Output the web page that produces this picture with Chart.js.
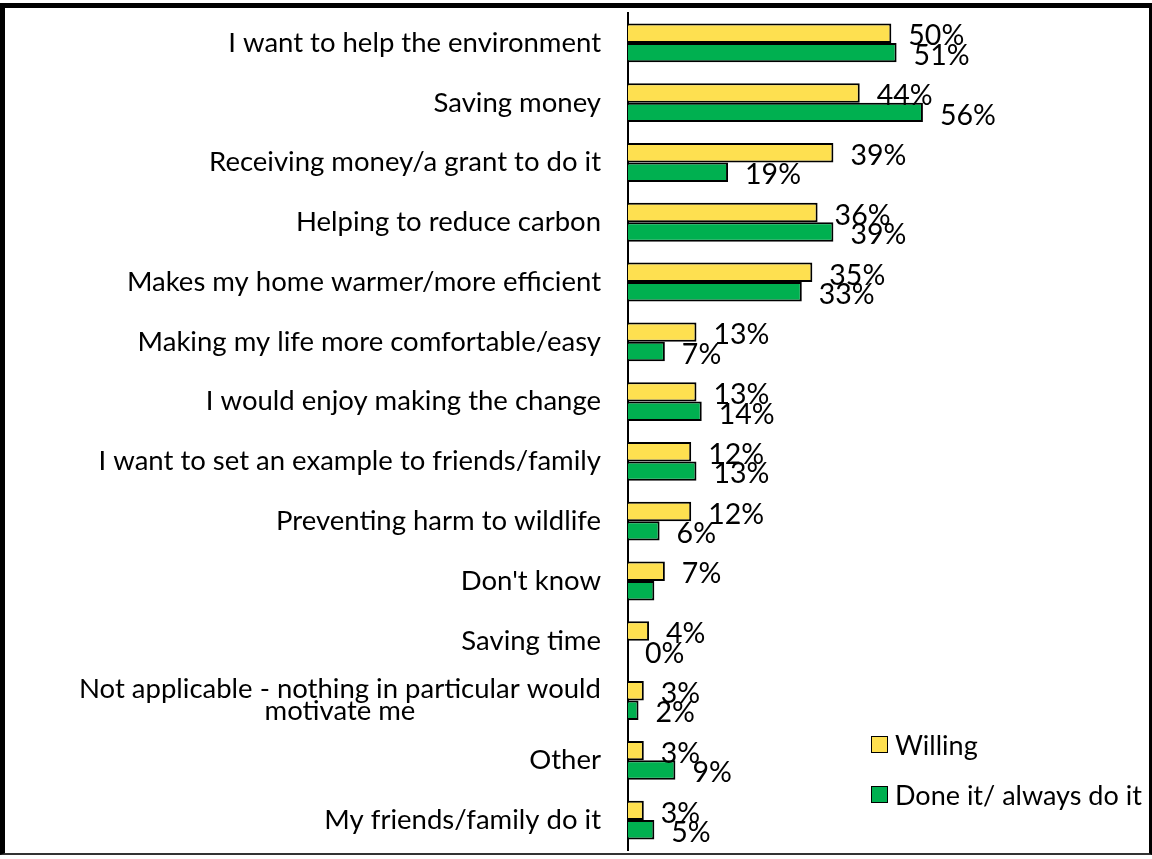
<!DOCTYPE html>
<html>
<head>
<meta charset="utf-8">
<script src="https://cdn.jsdelivr.net/npm/chart.js@4"></script>
<style>
  body { margin: 0; background: #fff; }
  #wrap { position: relative; width: 1152px; height: 859px; }
  #chart { position: absolute; left: 0; top: 0; }
  #frame {
    position: absolute; left: 0; top: 3px; width: 1144px; height: 845px;
    border-left: 5px solid #000; border-top: 5px solid #000;
    border-right: 3px solid #000; border-bottom: 2px solid #333;
    pointer-events: none;
  }
  .legend { position: absolute; left: 871px; font: 27px Lato, sans-serif; color: #000; display: flex; align-items: center; }
  .legend i { display: inline-block; width: 15px; height: 15px; border: 1.5px solid #000; margin-right: 7px; }
</style>
</head>
<body>
<div id="wrap">
  <canvas id="chart" width="1152" height="859"></canvas>
  <div id="frame"></div>
  <div class="legend" style="top:728px"><i style="background:#FEE050"></i>Willing</div>
  <div class="legend" style="top:778px"><i style="background:#00B050"></i>Done it/ always do it</div>
</div>
<script>
const categories = [
  'I want to help the environment',
  'Saving money',
  'Receiving money/a grant to do it',
  'Helping to reduce carbon',
  'Makes my home warmer/more efficient',
  'Making my life more comfortable/easy',
  'I would enjoy making the change',
  'I want to set an example to friends/family',
  'Preventing harm to wildlife',
  "Don't know",
  'Saving time',
  ['Not applicable - nothing in particular would', 'motivate me'],
  'Other',
  'My friends/family do it'
];
const willing = [50, 44, 39, 36, 35, 13, 13, 12, 12, 7, 4, 3, 3, 3];
const doneIt = [51, 56, 19, 39, 33, 7, 14, 13, 6, 5, 0, 2, 9, 5];
// the "Don't know" done bar carries no value label
const hideDoneLabel = ["Don't know"];

const labelFont = '27.5px Lato, sans-serif';
const valueFont = '28.5px Lato, sans-serif';

const categoryLabels = {
  id: 'categoryLabels',
  afterDraw (chart) {
    const ctx = chart.ctx;
    const y = chart.scales.y;
    ctx.save();
    ctx.font = labelFont;
    ctx.fillStyle = '#000';
    ctx.textBaseline = 'middle';
    ctx.textAlign = 'center';
    categories.forEach((cat, i) => {
      const lines = Array.isArray(cat) ? cat : [cat];
      const widest = Math.max(...lines.map(l => ctx.measureText(l).width));
      const right = 601;
      const lh = 22;
      const cy = y.getPixelForValue(i) - (lines.length - 1) * lh / 2;
      lines.forEach((l, k) => {
        ctx.fillText(l, right - widest / 2, cy + k * lh);
      });
    });
    ctx.restore();
  }
};

const valueLabels = {
  id: 'valueLabels',
  afterDatasetsDraw (chart) {
    const ctx = chart.ctx;
    ctx.save();
    ctx.font = valueFont;
    ctx.fillStyle = '#000';
    ctx.textAlign = 'left';
    ctx.textBaseline = 'middle';
    chart.data.datasets.forEach((ds, d) => {
      chart.getDatasetMeta(d).data.forEach((bar, i) => {
        const name = Array.isArray(categories[i]) ? categories[i][0] : categories[i];
        if (d === 1 && hideDoneLabel.includes(name)) return;
        ctx.fillText(ds.data[i] + '%', bar.x + 17, bar.y + 3);
      });
    });
    ctx.restore();
  }
};

new Chart(document.getElementById('chart'), {
  type: 'bar',
  data: {
    labels: categories,
    datasets: [{
      label: 'Willing',
      data: willing,
      backgroundColor: '#FEE050',
      borderColor: '#000',
      borderWidth: 2
    }, {
      label: 'Done it/ always do it',
      data: doneIt,
      backgroundColor: '#00B050',
      borderColor: '#000',
      borderWidth: 2
    }]
  },
  options: {
    indexAxis: 'y',
    responsive: false,
    animation: false,
    events: [],
    categoryPercentage: 0.65,
    barPercentage: 1,
    layout: { padding: { top: 13, bottom: 9, right: 50, left: 0 } },
    plugins: { legend: { display: false }, tooltip: { enabled: false } },
    scales: {
      x: { display: false, min: 0, max: 90 },
      y: {
        afterFit (scale) { scale.width = 628; },
        grid: { display: false },
        border: { display: true, color: '#000', width: 2 },
        ticks: { display: false }
      }
    }
  },
  plugins: [categoryLabels, valueLabels]
});
</script>
</body>
</html>
